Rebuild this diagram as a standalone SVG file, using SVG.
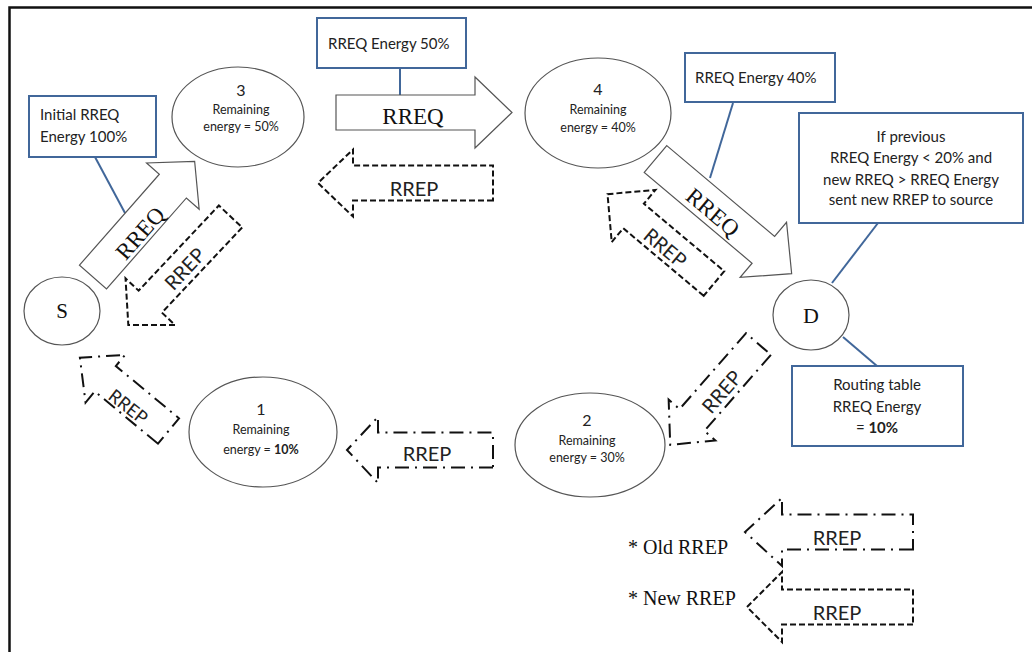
<svg xmlns="http://www.w3.org/2000/svg" width="1032" height="652" viewBox="0 0 1032 652">
<style>
.frame{fill:none;stroke:#111;stroke-width:2.5}
.node{fill:#fff;stroke:#555;stroke-width:1.2}
.box{fill:#fff;stroke:#41679a;stroke-width:2}
.lead{fill:none;stroke:#41679a;stroke-width:2}
.req{fill:#fff;stroke:#555;stroke-width:1.2}
.repnew{fill:#fff;stroke:#111;stroke-width:2;stroke-dasharray:6 3}
.repold{fill:#fff;stroke:#111;stroke-width:2;stroke-dasharray:14 6 2 6}
.serif{font-family:"Liberation Serif","Times New Roman",serif;fill:#111}
.sans{font-family:Lato,"Liberation Sans",sans-serif;fill:#222}
.big{font-size:23px}
.lab{font-size:20px}
.bt{font-size:15px}
.nt{font-size:12.5px}
.mid{text-anchor:middle}
</style>
<rect class="frame" x="9.5" y="7.5" width="1040" height="660"/>

<g id="connectors">
  <line class="lead" x1="95" y1="157" x2="125" y2="213"/>
  <line class="lead" x1="400" y1="68" x2="400" y2="95"/>
  <line class="lead" x1="733" y1="103" x2="710" y2="178"/>
  <line class="lead" x1="878" y1="223" x2="832" y2="283"/>
  <line class="lead" x1="843" y1="337" x2="877" y2="366"/>

  <g id="rreq-3-4">
    <polygon class="req" transform="translate(336,112.5)" points="0,-17.5 139,-17.5 139,-35.5 176,0 139,35.5 139,17.5 0,17.5"/>
    <text class="serif big mid" x="413" y="124">RREQ</text>
  </g>
  <g id="rrep-4-3">
    <polygon class="repnew" transform="translate(493,183) rotate(180)" points="0,-17.5 140,-17.5 140,-33.5 175,0 140,33.5 140,17.5 0,17.5"/>
    <text class="sans lab mid" x="414" y="196">RREP</text>
  </g>
  <g id="rreq-S-3">
    <polygon class="req" transform="translate(93,277) rotate(-48.7)" points="0,-18 121,-18 121,-35 154,0 121,35 121,18 0,18"/>
    <text class="serif big mid" transform="translate(140,233) rotate(-48.7)" y="8">RREQ</text>
  </g>
  <g id="rrep-3-S">
    <polygon class="repnew" transform="translate(230.5,216.5) rotate(133.3)" points="0,-16 117,-16 117,-34 149,0 117,34 117,16 0,16"/>
    <text class="sans lab mid" transform="translate(185,269) rotate(-46.7)" y="7">RREP</text>
  </g>
  <g id="rreq-4-D">
    <polygon class="req" transform="translate(655.5,159) rotate(40.1)" points="0,-17.5 141,-17.5 141,-36 178,0 141,36 141,17.5 0,17.5"/>
    <text class="serif big mid" transform="translate(713,212) rotate(40)" y="8">RREQ</text>
  </g>
  <g id="rrep-D-4">
    <polygon class="repnew" transform="translate(714,283.5) rotate(-140)" points="0,-16 105,-16 105,-34 139,0 105,34 105,16 0,16"/>
    <text class="sans lab mid" transform="translate(665,248) rotate(40)" y="7">RREP</text>
  </g>
  <g id="rrep-D-2">
    <polygon class="repold" transform="translate(758.5,344) rotate(131.2)" points="0,-16.5 101,-16.5 101,-31 134,0 101,31 101,16.5 0,16.5"/>
    <text class="sans lab mid" transform="translate(722,392) rotate(-48.8)" y="7">RREP</text>
  </g>
  <g id="rrep-2-1">
    <polygon class="repold" transform="translate(493,450) rotate(180)" points="0,-17.5 115,-17.5 115,-33 146,0 115,33 115,17.5 0,17.5"/>
    <text class="sans lab mid" x="427" y="461">RREP</text>
  </g>
  <g id="rrep-1-S">
    <polygon class="repold" transform="translate(168.5,431) rotate(-140.4)" points="0,-16.5 82,-16.5 82,-31 115,0 82,31 82,16.5 0,16.5"/>
    <text class="sans mid" style="font-size:18px" transform="translate(128,407) rotate(38)" y="6">RREP</text>
  </g>
</g>

<g id="node-S">
  <ellipse class="node" cx="62" cy="311" rx="38" ry="34"/>
  <text class="serif mid" style="font-size:21px" x="62" y="318">S</text>
</g>
<g id="node-3">
  <ellipse class="node" cx="238" cy="117" rx="66" ry="50"/>
  <text class="sans mid" style="font-size:16px" x="241" y="96">3</text>
  <text class="sans nt mid" x="241" y="114">Remaining</text>
  <text class="sans nt mid" x="241" y="131">energy = 50%</text>
</g>
<g id="node-4">
  <ellipse class="node" cx="598" cy="113" rx="73" ry="55"/>
  <text class="sans mid" style="font-size:16px" x="598" y="95">4</text>
  <text class="sans nt mid" x="598" y="114">Remaining</text>
  <text class="sans nt mid" x="598" y="132">energy = 40%</text>
</g>
<g id="node-D">
  <ellipse class="node" cx="811" cy="315" rx="38" ry="35"/>
  <text class="serif mid" style="font-size:22px" x="811" y="323">D</text>
</g>
<g id="node-1">
  <ellipse class="node" cx="263" cy="432" rx="74" ry="55"/>
  <text class="sans mid" style="font-size:16px" x="261" y="415">1</text>
  <text class="sans nt mid" x="261" y="434">Remaining</text>
  <text class="sans nt mid" x="261" y="454">energy = <tspan font-weight="bold">10%</tspan></text>
</g>
<g id="node-2">
  <ellipse class="node" cx="590" cy="445" rx="75" ry="52"/>
  <text class="sans mid" style="font-size:16px" x="587" y="426">2</text>
  <text class="sans nt mid" x="587" y="445">Remaining</text>
  <text class="sans nt mid" x="587" y="462">energy = 30%</text>
</g>

<g id="box-initial">
  <rect class="box" x="29" y="96" width="127" height="61"/>
  <text class="sans bt" x="40" y="120">Initial RREQ</text>
  <text class="sans bt" x="40" y="142">Energy 100%</text>
</g>
<g id="box-50">
  <rect class="box" x="317" y="18" width="149" height="50"/>
  <text class="sans bt" x="328" y="49">RREQ Energy 50%</text>
</g>
<g id="box-40">
  <rect class="box" x="685" y="53" width="150" height="49"/>
  <text class="sans bt" x="695" y="83">RREQ Energy 40%</text>
</g>
<g id="box-rule">
  <rect class="box" x="799" y="113" width="224" height="110"/>
  <text class="sans bt mid" x="911" y="142">If previous</text>
  <text class="sans bt mid" x="911" y="163">RREQ Energy &lt; 20% and</text>
  <text class="sans bt mid" x="911" y="185">new RREQ &gt; RREQ Energy</text>
  <text class="sans bt mid" x="911" y="205">sent new RREP to source</text>
</g>
<g id="box-routing">
  <rect class="box" x="792" y="366" width="171" height="80"/>
  <text class="sans bt mid" x="877" y="390">Routing table</text>
  <text class="sans bt mid" x="877" y="412">RREQ Energy</text>
  <text class="sans bt mid" x="877" y="433">= <tspan font-weight="bold">10%</tspan></text>
</g>

<g id="legend">
  <text class="serif" style="font-size:20px" x="628" y="554">* Old RREP</text>
  <polygon class="repold" transform="translate(913,532) rotate(180)" points="0,-17.5 131,-17.5 131,-34 168,0 131,34 131,17.5 0,17.5"/>
  <text class="sans lab mid" x="837" y="545">RREP</text>
  <text class="serif" style="font-size:20px" x="628" y="605">* New RREP</text>
  <polygon class="repnew" transform="translate(913,607) rotate(180)" points="0,-17.5 131,-17.5 131,-35 166,0 131,35 131,17.5 0,17.5"/>
  <text class="sans lab mid" x="837" y="620">RREP</text>
</g>
</svg>
